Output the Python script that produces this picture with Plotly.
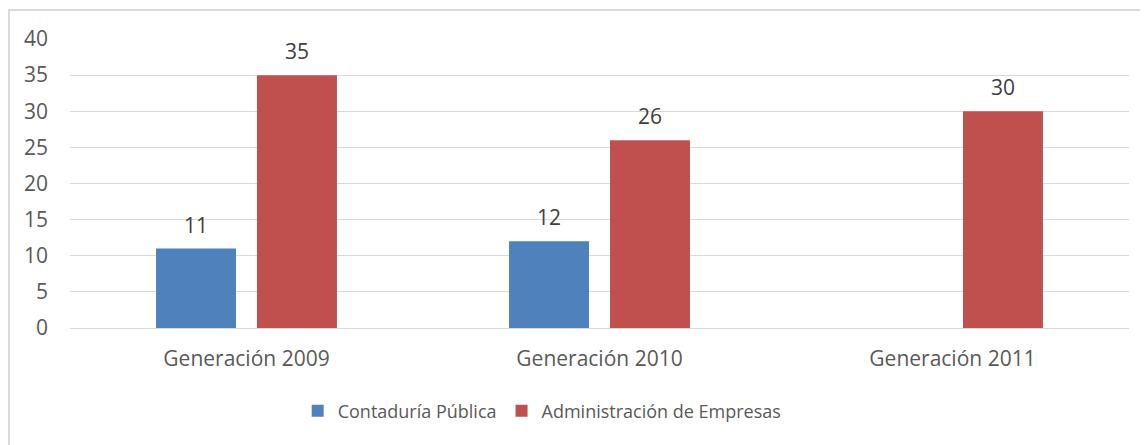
import plotly.graph_objects as go

categories = ["Generación 2009", "Generación 2010", "Generación 2011"]
contaduria = [11, 12, None]
administracion = [35, 26, 30]

colors = {
    "contaduria": "#4F81BD",
    "administracion": "#C0504D",
    "grid": "#D9D9D9",
    "text": "#595959",
    "label": "#404040",
}

fig = go.Figure()

series = [
    ("Contaduría Pública", contaduria, colors["contaduria"], -50.5),
    ("Administración de Empresas", administracion, colors["administracion"], 50.5),
]

for name, values, color, shift in series:
    fig.add_trace(
        go.Bar(
            x=categories,
            y=values,
            name=name,
            marker=dict(color=color, line=dict(width=0)),
        )
    )
    # data labels above the bars
    for cat, v in zip(categories, values):
        if v is None:
            continue
        fig.add_annotation(
            x=cat,
            y=v,
            text=str(v),
            showarrow=False,
            xshift=shift,
            yshift=24,
            yanchor="middle",
            font=dict(size=21, color=colors["label"]),
        )

fig.update_layout(
    width=1140,
    height=437,
    paper_bgcolor="white",
    plot_bgcolor="white",
    font=dict(family="Open Sans, Liberation Sans, sans-serif", color=colors["text"], size=18),
    barmode="group",
    bargap=0.428,
    bargroupgap=0.208,
    margin=dict(l=62, r=19, t=31, b=117),
    showlegend=True,
    legend=dict(
        orientation="h",
        x=0.215,
        xanchor="left",
        y=-0.287,
        yanchor="middle",
        font=dict(size=18, color=colors["text"]),
        itemwidth=30,
        traceorder="normal",
    ),
)

fig.update_yaxes(
    range=[0, 40],
    dtick=5,
    showgrid=True,
    gridcolor=colors["grid"],
    gridwidth=1,
    zeroline=True,
    zerolinecolor=colors["grid"],
    zerolinewidth=1,
    showline=False,
    ticks="",
    ticklabelstandoff=21,
    tickfont=dict(size=21, color=colors["text"]),
)
fig.update_xaxes(
    showgrid=False,
    showline=False,
    ticks="",
    ticklabelstandoff=16,
    tickfont=dict(size=21, color=colors["text"]),
)

# chart area border
fig.add_shape(
    type="rect",
    xref="paper",
    yref="paper",
    x0=-0.0576,
    x1=1.2,
    y0=-1.0,
    y1=1.100,
    line=dict(color=colors["grid"], width=2),
    fillcolor="rgba(0,0,0,0)",
    layer="below",
)

fig.write_html("out.html")
